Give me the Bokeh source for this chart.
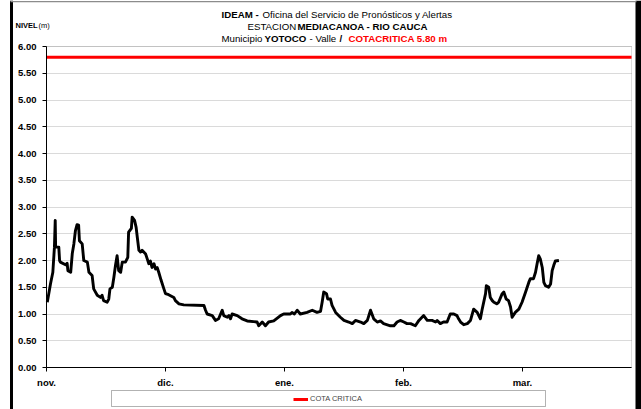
import numpy as np
from bokeh.plotting import figure
from bokeh.models import (Range1d, FixedTicker, NumeralTickFormatter, Label,
                          BoxAnnotation, Legend, LegendItem)
from bokeh.embed import file_html
from bokeh.resources import INLINE

# ---------------- data ----------------
dias = [0.2, 1.0, 1.6, 2.0, 2.2, 2.3, 3.1, 3.3, 3.5, 4.8, 5.2, 5.4, 6.1, 6.5, 6.9, 7.3, 7.7, 8.1, 8.3, 9.0,
        9.4, 10.3, 10.7, 11.5, 11.9, 12.8, 13.6, 14.0, 14.4, 15.3, 15.7, 16.0, 16.6, 17.0, 17.4, 17.8, 18.2,
        18.7, 19.1, 19.9, 20.5, 20.7, 21.4, 21.6, 22.2, 22.6, 22.9, 23.3, 23.7, 24.1, 25.0, 25.4, 25.8, 26.2,
        26.6, 27.1, 27.5, 27.9, 28.3, 28.9, 29.6, 30.0, 30.8, 32.1, 32.5, 33.4, 34.6, 39.7, 40.1, 40.5, 41.8,
        42.6, 43.4, 44.3, 44.7, 45.6, 46.0, 46.4, 46.8, 48.1, 49.3, 50.6, 53.1, 53.5, 54.4, 55.2, 56.0, 57.3,
        59.0, 59.8, 61.5, 61.9, 62.5, 63.2, 64.0, 65.7, 67.0, 68.2, 69.1, 69.5, 69.9, 70.6, 70.9, 71.6, 72.0,
        72.9, 74.1, 75.0, 76.2, 77.1, 77.9, 79.2, 80.0, 80.9, 81.7, 82.5, 83.4, 84.2, 85.0, 86.7, 87.6, 88.4,
        89.2, 90.1, 90.9, 91.8, 93.0, 93.9, 95.1, 96.0, 97.2, 98.1, 98.5, 99.3, 100.1, 101.0, 101.8, 102.7,
        103.5, 103.9, 104.4, 105.2, 106.1, 106.9, 107.7, 108.6, 109.4, 109.8, 110.7, 110.9, 111.5, 111.9,
        112.4, 112.8, 113.6, 114.0, 114.9, 115.3, 115.9, 116.5, 117.0, 117.4, 118.2, 119.1, 119.9, 120.8,
        121.6, 122.0, 122.8, 123.3, 123.7, 124.1, 124.5, 125.0, 125.4, 125.8, 126.6, 127.1, 127.5, 127.9,
        128.3, 129.2]
nivel = [1.22, 1.56, 1.78, 2.25, 2.75, 2.25, 2.25, 2.00, 1.97, 1.92, 1.95, 1.81, 1.78, 2.13, 2.31, 2.56, 2.67,
         2.66, 2.37, 2.31, 2.00, 1.97, 1.78, 1.72, 1.47, 1.35, 1.31, 1.35, 1.25, 1.22, 1.28, 1.47, 1.50, 1.69,
         1.91, 2.09, 1.81, 1.78, 1.97, 1.97, 2.06, 2.53, 2.60, 2.81, 2.75, 2.62, 2.43, 2.19, 2.16, 2.19, 2.12,
         2.03, 1.94, 1.99, 1.87, 1.94, 1.84, 1.87, 1.78, 1.63, 1.47, 1.38, 1.36, 1.31, 1.25, 1.19, 1.17, 1.16,
         1.07, 1.00, 0.97, 0.88, 0.91, 1.07, 0.97, 0.94, 0.97, 0.91, 1.00, 0.97, 0.91, 0.87, 0.85, 0.78, 0.85,
         0.78, 0.85, 0.87, 0.97, 1.00, 1.00, 1.03, 1.00, 1.07, 1.00, 1.03, 1.07, 1.03, 1.05, 1.22, 1.41, 1.38,
         1.28, 1.28, 1.16, 1.03, 0.94, 0.88, 0.85, 0.82, 0.88, 0.85, 0.82, 0.88, 1.07, 0.91, 0.85, 0.87, 0.82,
         0.78, 0.78, 0.85, 0.88, 0.85, 0.82, 0.82, 0.78, 0.88, 0.97, 0.88, 0.88, 0.85, 0.88, 0.82, 0.85, 0.85,
         1.00, 1.00, 0.97, 0.91, 0.85, 0.80, 0.82, 0.88, 1.09, 1.03, 0.91, 1.07, 1.38, 1.53, 1.50, 1.31, 1.25,
         1.22, 1.19, 1.22, 1.38, 1.41, 1.28, 1.25, 1.13, 0.94, 1.03, 1.09, 1.22, 1.41, 1.59, 1.66, 1.66, 1.78,
         1.94, 2.09, 2.03, 1.87, 1.59, 1.53, 1.50, 1.56, 1.81, 1.91, 1.99, 2.00]
cota_critica = 5.80
mes_ticks = [0, 30, 60, 90, 120]
mes_labels = ["nov.", "dic.", "ene.", "feb.", "mar."]
y_ticks = [0.0, 0.5, 1.0, 1.5, 2.0, 2.5, 3.0, 3.5, 4.0, 4.5, 5.0, 5.5, 6.0]
x_ini, x_fin = 0.0, 147.5          # extent of the time axis (days from 1 nov.)
y_ini, y_fin = 0.0, 6.0

# ---------------- layout helpers ----------------
W, H = 641, 409
AX_L, AX_R, AX_T, AX_B = 46, 631, 46, 367   # plot-area box in canvas pixels
sx = (AX_R - AX_L) / (x_fin - x_ini)
sy = (AX_B - AX_T) / (y_fin - y_ini)


def X(px):  # canvas pixel -> data x
    return x_ini + (px - AX_L) / sx


def Y(py):  # canvas pixel -> data y
    return y_ini + (AX_B - py) / sy


FONT = "Liberation Sans"

p = figure(width=W, height=H, x_range=Range1d(X(0), X(W)), y_range=Range1d(Y(H), Y(0)),
           output_backend="svg", toolbar_location=None,
           min_border_left=0, min_border_right=0, min_border_top=0, min_border_bottom=0)
p.title.visible = False
p.background_fill_color = "white"
p.border_fill_color = "white"
p.outline_line_color = None

# axes drawn at the data origin, limited to the plot box
p.yaxis.fixed_location = x_ini
p.xaxis.fixed_location = y_ini
p.yaxis.bounds = (y_ini, y_fin)
p.xaxis.bounds = (x_ini, x_fin)
p.yaxis.ticker = FixedTicker(ticks=y_ticks)
p.yaxis.formatter = NumeralTickFormatter(format="0.00")
p.xaxis.ticker = FixedTicker(ticks=mes_ticks)
p.xaxis.major_label_overrides = {t: l for t, l in zip(mes_ticks, mes_labels)}
for ax in (p.xaxis[0], p.yaxis[0]):
    ax.axis_line_color = "black"
    ax.major_tick_line_color = "black"
    ax.major_tick_out = 4
    ax.major_tick_in = 0
    ax.minor_tick_line_color = None
    ax.major_label_text_font = FONT
    ax.major_label_text_font_style = "bold"
    ax.major_label_text_font_size = "9.5px"
    ax.major_label_text_color = "black"
p.yaxis.major_label_standoff = 6
p.xaxis.major_label_standoff = 5

# grid
p.xgrid.visible = False
try:
    p.ygrid.cross_bounds = (x_ini, x_fin)
    p.ygrid.ticker = FixedTicker(ticks=y_ticks)
    p.ygrid.grid_line_color = "#b4b4b4"
    p.ygrid.grid_line_dash = "1 1"
except AttributeError:
    p.ygrid.visible = False
    p.segment(x0=x_ini, x1=x_fin, y0=y_ticks, y1=y_ticks, line_color="#b4b4b4",
              line_dash="1 1", line_width=1)

# plot-area border (grey)
p.add_layout(BoxAnnotation(left=x_ini, right=x_fin, bottom=y_ini, top=y_fin,
                           fill_color=None, line_color="#8c8c8c", line_width=1, level="underlay"))

r_cota = p.segment(x0=[x_ini], x1=[x_fin], y0=[cota_critica], y1=[cota_critica],
                   line_color="#ff0000", line_width=3)
p.line(dias, nivel, line_color="black", line_width=2.9, line_join="round")

legend = Legend(items=[LegendItem(label="COTA CRITICA", renderers=[r_cota])],
                location=(293, H - 403),
                orientation="horizontal", padding=0, margin=0, spacing=0,
                glyph_width=15, glyph_height=8, label_height=8, label_standoff=2,
                label_text_font=FONT, label_text_font_size="7.5px",
                border_line_alpha=0, background_fill_alpha=0)
p.add_layout(legend, "center")

# legend frame
p.add_layout(BoxAnnotation(left=X(111), right=X(545), top=Y(390), bottom=Y(406),
                           fill_color=None, line_color="black", line_width=1))
# outer border of the chart image
p.add_layout(BoxAnnotation(left=X(9.5), right=X(12.5), top=Y(0), bottom=Y(H),
                           fill_color="black", fill_alpha=1, line_color=None))
p.add_layout(BoxAnnotation(left=X(635), right=X(641), top=Y(0), bottom=Y(H),
                           fill_color="black", fill_alpha=1, line_color=None))
p.add_layout(BoxAnnotation(left=X(10), right=X(636), top=Y(0.5), bottom=Y(1.8),
                           fill_color="#8c8c8c", fill_alpha=1, line_color=None))


def txt(s, px, py, bold=False, color="black", size="9.7px"):
    p.add_layout(Label(x=X(px), y=Y(py), text=s, text_font=FONT, text_font_size=size,
                       text_font_style="bold" if bold else "normal", text_color=color,
                       text_align="left", text_baseline="middle"))


txt("IDEAM -", 221, 13.5, bold=True)
txt("Oficina del Servicio de Pronósticos y Alertas", 262, 13.5)
txt("ESTACION", 247, 26)
txt("MEDIACANOA - RIO CAUCA", 297, 26, bold=True)
txt("Municipio", 221, 38)
txt("YOTOCO", 264, 38, bold=True)
txt("- Valle", 309, 38)
txt("/", 339, 38, bold=True)
txt("COTACRITICA  5.80 m", 348, 38, bold=True, color="#ff0000")
txt("NIVEL", 15, 25, bold=True, size="7.5px")
txt("(m)", 38, 25, size="7.5px")

open("out.html", "w").write(file_html(p, INLINE))
